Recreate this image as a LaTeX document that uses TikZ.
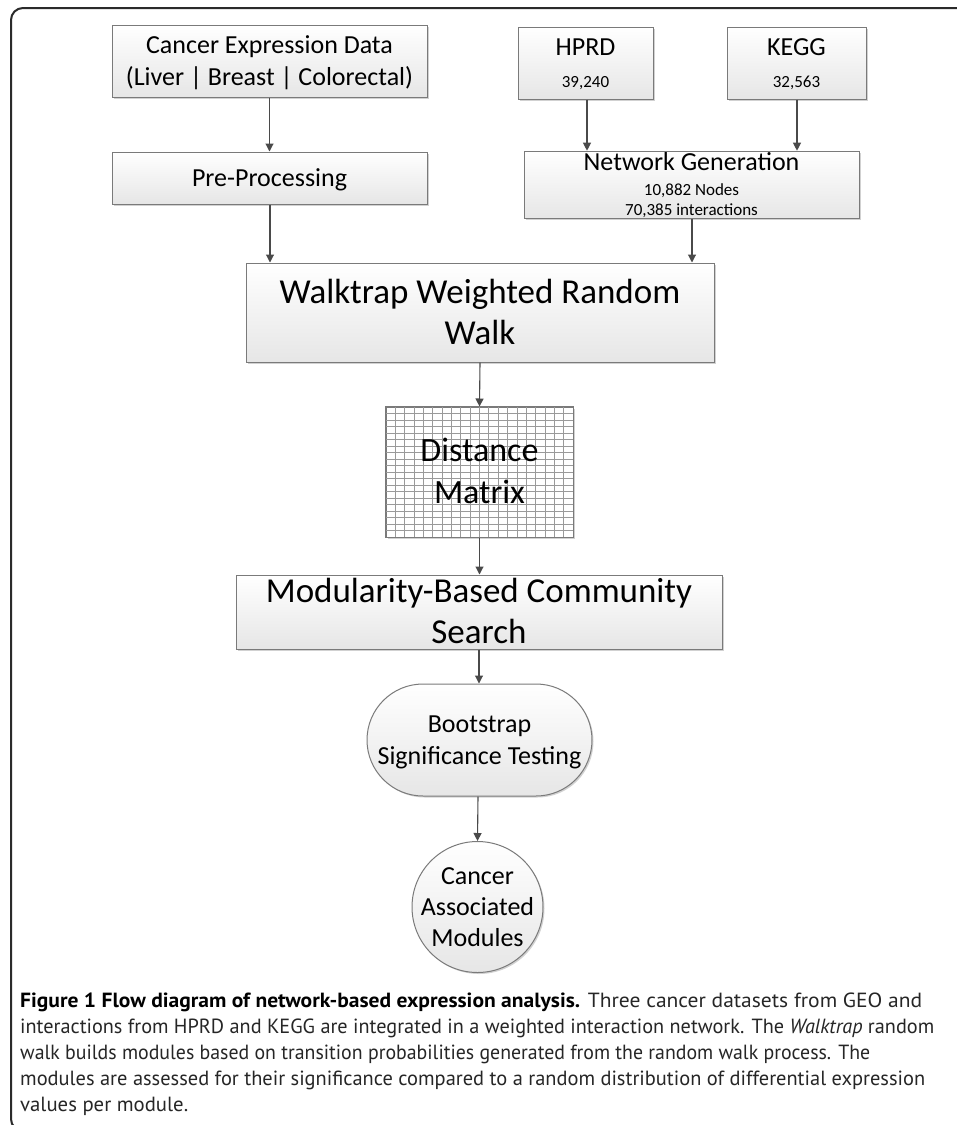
\documentclass[tikz,border=0pt]{standalone}
\usepackage{fontspec}
\setmainfont{Carlito}
\newfontfamily\capfont{PT Sans}
\usetikzlibrary{arrows.meta,shadows}
\definecolor{boxborder}{HTML}{7A7A7A}
\definecolor{boxbottom}{HTML}{E6E6E6}
\definecolor{arrowcol}{HTML}{4A4A4A}
\definecolor{framecol}{HTML}{2A2A2A}
\definecolor{gridcol}{HTML}{9A9A9A}
\definecolor{captext}{HTML}{262626}
\newcommand{\tp}[1]{\rule{0pt}{#1pt}}
\newcommand{\bt}[1]{\rule[-#1pt]{0pt}{#1pt}}
\newcommand{\fitw}[2]{\resizebox{#1pt}{\height}{#2}}
\begin{document}
\begin{tikzpicture}[x=1pt,y=-1pt,
  flowbox/.style={draw=boxborder, line width=1pt, top color=white, bottom color=boxbottom,
    inner sep=0pt, align=center, text=black,
    drop shadow={shadow xshift=1.5pt, shadow yshift=-1.5pt, opacity=0.18, fill=black}},
  pillbox/.style={flowbox, rounded corners=56pt},
  roundbox/.style={flowbox, circle},
  conn/.style={draw=arrowcol, line width=1.1pt, -{Triangle[width=8pt,length=8pt]}},
  gridln/.style={draw=gridcol, line width=0.8pt},
  capline/.style={anchor=base west, inner sep=0pt, text=captext, font=\capfont\fontsize{20.5}{26}\selectfont}
]
\useasboundingbox (0,0) rectangle (957,1125);
\clip (0,0) rectangle (957,1125);
\fill[white] (0,0) rectangle (957,1125);
% frame
\draw[framecol, line width=2pt, rounded corners=12pt] (1000,8) -- (11,8) -- (11,1131) -- (1000,1131);

% nodes
\node[flowbox, minimum width=315pt, minimum height=72pt, font=\fontsize{26}{32}\selectfont] (expr) at (269.5,61)
  {\tp{26.6}Cancer Expression Data\\(Liver | Breast | Colorectal)\bt{10}};
\node[flowbox, minimum width=315pt, minimum height=52pt, font=\fontsize{26}{32}\selectfont] (pre) at (269.5,178)
  {\tp{26.6}Pre-Processing\bt{10}};
\node[flowbox, minimum width=135pt, minimum height=72pt, font=\fontsize{26}{32}\selectfont] (hprd) at (585.5,63)
  {\tp{26.6}HPRD\\{\fontsize{17}{20}\selectfont 39,240}\bt{10}};
\node[flowbox, minimum width=139pt, minimum height=72pt, font=\fontsize{26}{32}\selectfont] (kegg) at (796.5,63)
  {\tp{26.6}KEGG\\{\fontsize{17}{20}\selectfont 32,563}\bt{10}};
\node[flowbox, minimum width=335pt, minimum height=66pt, font=\fontsize{17}{20}\selectfont] (net) at (691.5,185)
  {{\fontsize{26}{28}\selectfont\tp{19.6}Network Generation}\\[5pt]10,882 Nodes\\70,385 interactions\bt{3}};
\node[flowbox, minimum width=468pt, minimum height=99pt, font=\fontsize{35}{41}\selectfont] (walk) at (480,312.5)
  {\tp{32.4}Walktrap Weighted Random\\Walk\bt{10}};

% distance matrix
\node[draw=boxborder, line width=1pt, fill=white, minimum width=187pt, minimum height=130pt, inner sep=0pt,
  drop shadow={shadow xshift=1.5pt, shadow yshift=-1.5pt, opacity=0.18, fill=black}] (dist) at (479.5,472) {};
\foreach \i in {1,...,19} { \draw[gridln] ({386+\i*9.35},407) -- ({386+\i*9.35},537); }
\foreach \j in {1,...,19} { \draw[gridln] (386,{407+\j*6.5}) -- (573,{407+\j*6.5}); }
\draw[draw=boxborder, line width=1pt] (dist.north west) rectangle (dist.south east);
\node[align=center, inner sep=0pt, font=\fontsize{34}{42}\selectfont] (distlabel) at (479.5,472)
  {\tp{31.8}Distance\\Matrix\bt{10}};

\node[flowbox, minimum width=486pt, minimum height=74pt, font=\fontsize{35}{41}\selectfont] (mod) at (479,612)
  {\tp{25.4}Modularity-Based Community\\Search\bt{3}};
\node[pillbox, minimum width=225pt, minimum height=112pt, font=\fontsize{26}{32}\selectfont] (boot) at (479.5,740)
  {\tp{26.6}Bootstrap\\Significance Testing\bt{10}};
\node[roundbox, minimum size=131pt] (cam) at (477.5,907) {};
\node[align=center, inner sep=0pt, font=\fontsize{26}{31}\selectfont] (camlabel) at (477.5,907)
  {\tp{26.6}Cancer\\Associated\\Modules\bt{10}};

% connectors
\draw[conn] (expr.south) -- (pre.north);
\draw[conn] ([xshift=1.5pt]hprd.south) -- ([xshift=1.5pt]hprd.south |- net.north);
\draw[conn] ([xshift=0.5pt]kegg.south) -- ([xshift=0.5pt]kegg.south |- net.north);
\draw[conn] ([xshift=0.5pt]pre.south) -- ([xshift=0.5pt]pre.south |- walk.north);
\draw[conn] ([xshift=0.5pt]net.south) -- ([xshift=0.5pt]net.south |- walk.north);
\draw[conn] (walk.south) -- (dist.north);
\draw[conn] (dist.south) -- (dist.south |- mod.north);
\draw[conn] (mod.south) -- (mod.south |- boot.north);
\draw[conn] ([xshift=-1.5pt]boot.south) -- (cam.north);

% caption
\node[capline] (cap1) at (20,1007) {\fitw{902}{{\bfseries\color{black}Figure 1 Flow diagram of network-based expression analysis.} Three cancer datasets from GEO and}};
\node[capline] (cap2) at (20,1033) {\fitw{914}{interactions from HPRD and KEGG are integrated in a weighted interaction network. The \textit{Walktrap} random}};
\node[capline] (cap3) at (20,1059) {\fitw{850}{walk builds modules based on transition probabilities generated from the random walk process. The}};
\node[capline] (cap4) at (20,1085) {\fitw{905}{modules are assessed for their significance compared to a random distribution of differential expression}};
\node[capline] (cap5) at (20,1111) {\fitw{168}{values per module.}};
\end{tikzpicture}
\end{document}
